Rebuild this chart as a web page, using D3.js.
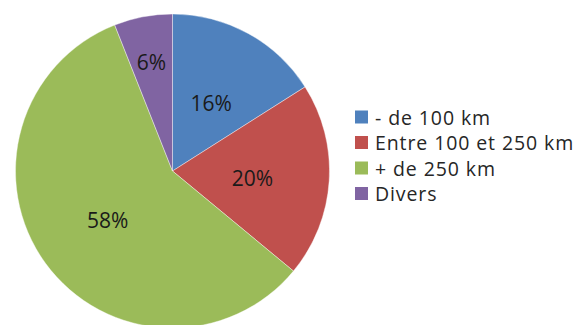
<!DOCTYPE html>
<html>
<head>
<meta charset="utf-8">
<script src="https://cdn.jsdelivr.net/npm/d3@7"></script>
<style>
  html, body { margin: 0; padding: 0; background: #fff; }
  svg { display: block; }
  text { font-family: "Open Sans", "Liberation Sans", sans-serif; }
</style>
</head>
<body>
<svg id="chart" width="583" height="325"></svg>
<script>
// Répartition des trajets par distance (%)
const categories = ["- de 100 km", "Entre 100 et 250 km", "+ de 250 km", "Divers"];
const values = [16, 20, 58, 6];
const colors = ["#4F81BD", "#C0504D", "#9BBB59", "#8064A2"];

const svg = d3.select("#chart");
const cx = 172.5, cy = 171, R = 157;

const data = categories.map((c, i) => ({ name: c, value: values[i] }));
const total = d3.sum(values);

const pie = d3.pie().value(d => d.value).sort(null);
const arc = d3.arc().innerRadius(0).outerRadius(R);
const arcs = pie(data);

const g = svg.append("g").attr("transform", `translate(${cx},${cy})`);

g.selectAll("path.slice")
  .data(arcs)
  .join("path")
  .attr("class", "slice")
  .attr("d", arc)
  .attr("fill", (d, i) => colors[i])
  .attr("stroke", "#fff")
  .attr("stroke-opacity", 0.5)
  .attr("stroke-width", 0.8);

// Percentage labels: centred in the slice, pushed outward when the slice is too narrow
const labels = g.selectAll("text.pct")
  .data(arcs)
  .join("text")
  .attr("class", "pct")
  .attr("text-anchor", "middle")
  .attr("dominant-baseline", "central")
  .attr("font-size", 21)
  .attr("fill", "#1a1a1a")
  .text(d => Math.round(d.data.value / total * 100) + "%");

labels.each(function (d) {
  const w = this.getComputedTextLength();
  const mid = (d.startAngle + d.endAngle) / 2;
  const half = (d.endAngle - d.startAngle) / 2;
  let r = R * 0.51;
  const need = (w / 2 + 14) / Math.sin(Math.min(half, Math.PI / 2));
  if (need > r) r = Math.min(need, R * 0.72);
  d3.select(this)
    .attr("x", r * Math.sin(mid))
    .attr("y", -r * Math.cos(mid) + 2);
});

// Legend
const legend = svg.append("g").attr("transform", "translate(355,117)");
const row = legend.selectAll("g.item")
  .data(data)
  .join("g")
  .attr("class", "item")
  .attr("transform", (d, i) => `translate(0,${i * 25.5})`);

row.append("rect")
  .attr("x", 0).attr("y", -6.5)
  .attr("width", 13).attr("height", 13)
  .attr("fill", (d, i) => colors[i]);

row.append("text")
  .attr("x", 20)
  .attr("y", 0)
  .attr("dominant-baseline", "central")
  .attr("font-size", 19.5)
  .attr("letter-spacing", 0.9)
  .attr("fill", "#262626")
  .text(d => d.name);
</script>
</body>
</html>
